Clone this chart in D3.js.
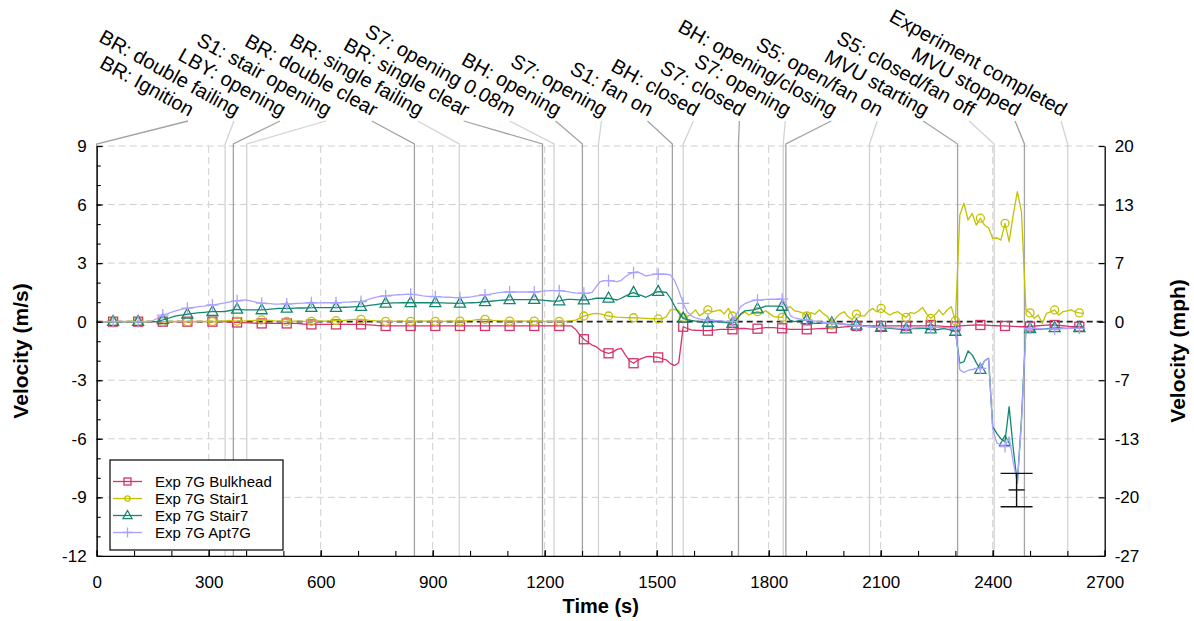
<!DOCTYPE html>
<html><head><meta charset="utf-8">
<script src="https://cdn.jsdelivr.net/npm/d3@7"></script>
<style>
html,body{margin:0;padding:0;background:#fff;}
svg{display:block;font-family:"Liberation Sans",Arial,Helvetica,sans-serif;}
</style></head><body>
<svg id="chart" width="1194" height="621"></svg>
<script>
// ---------------- DATA ----------------
const seriesNames = ["Exp 7G Bulkhead", "Exp 7G Stair1", "Exp 7G Stair7", "Exp 7G Apt7G"];

const time = [
0,11,22,33,44,55,66,77,88,100,
111,122,133,144,155,166,177,188,199,210,
221,232,243,254,265,277,288,299,310,321,
332,343,354,365,376,387,398,409,420,431,
442,453,465,476,487,498,509,520,531,542,
553,564,575,586,597,608,619,630,641,653,
664,675,686,697,708,719,730,741,752,763,
774,785,796,807,818,830,841,852,863,874,
885,896,907,918,929,940,951,962,973,984,
995,1006,1018,1029,1040,1051,1062,1073,1084,1095,
1106,1117,1128,1139,1150,1161,1172,1183,1194,1206,
1217,1228,1239,1250,1261,1272,1283,1294,1305,1316,
1327,1338,1349,1360,1371,1383,1394,1405,1416,1427,
1438,1449,1460,1471,1482,1493,1504,1515,1526,1537,
1548,1559,1571,1582,1593,1604,1615,1626,1637,1648,
1659,1670,1681,1692,1703,1714,1725,1736,1747,1759,
1770,1781,1792,1803,1814,1825,1836,1847,1858,1869,
1880,1891,1902,1913,1924,1936,1947,1958,1969,1980,
1991,2002,2013,2024,2035,2046,2057,2068,2079,2090,
2101,2112,2124,2135,2146,2157,2168,2179,2190,2201,
2212,2223,2234,2245,2256,2267,2278,2289,2300,2312,
2323,2334,2345,2356,2367,2378,2389,2400,2411,2422,
2433,2444,2455,2466,2477,2489,2500,2511,2522,2533,
2544,2555,2566,2577,2588,2599,2610,2621,2632,2643];

const bulkhead = [
0,0,0,0,0,0,0,0,0,0,
0,0,0,0,0,0,0,0,0,0,
0,0,0,0,0,0,0,0,0,0,
0,0,-0.02,-0.03,-0.04,-0.05,-0.05,-0.06,-0.07,-0.08,
-0.09,-0.09,-0.09,-0.09,-0.09,-0.09,-0.09,-0.09,-0.09,-0.1,
-0.12,-0.13,-0.14,-0.14,-0.14,-0.14,-0.14,-0.14,-0.14,-0.14,
-0.14,-0.14,-0.14,-0.14,-0.14,-0.15,-0.16,-0.18,-0.2,-0.21,
-0.22,-0.22,-0.22,-0.22,-0.22,-0.22,-0.22,-0.22,-0.22,-0.22,
-0.22,-0.22,-0.22,-0.22,-0.22,-0.22,-0.22,-0.22,-0.22,-0.22,
-0.22,-0.22,-0.22,-0.22,-0.22,-0.22,-0.22,-0.22,-0.22,-0.22,
-0.22,-0.22,-0.22,-0.22,-0.22,-0.22,-0.22,-0.22,-0.22,-0.22,
-0.22,-0.22,-0.22,-0.22,-0.22,-0.22,-0.4,-0.68,-0.9,-1.05,
-1.2,-1.28,-1.45,-1.56,-1.62,-1.55,-1.42,-1.37,-1.7,-2.0,
-2.13,-1.98,-1.88,-1.8,-1.78,-1.8,-1.83,-1.9,-1.96,-2.15,
-2.25,-2.1,-0.26,-0.35,-0.42,-0.44,-0.45,-0.46,-0.46,-0.44,
-0.42,-0.39,-0.39,-0.39,-0.39,-0.37,-0.35,-0.35,-0.37,-0.39,
-0.36,-0.33,-0.31,-0.3,-0.31,-0.33,-0.34,-0.37,-0.39,-0.39,
-0.39,-0.39,-0.39,-0.38,-0.37,-0.36,-0.35,-0.34,-0.33,-0.31,
-0.29,-0.27,-0.25,-0.23,-0.22,-0.22,-0.22,-0.22,-0.22,-0.22,
-0.22,-0.22,-0.22,-0.22,-0.22,-0.22,-0.22,-0.22,-0.22,-0.22,
-0.22,-0.2,-0.17,-0.2,-0.22,-0.24,-0.26,-0.26,-0.24,-0.22,
-0.2,-0.19,-0.18,-0.17,-0.17,-0.18,-0.19,-0.2,-0.21,-0.22,
-0.22,-0.23,-0.24,-0.25,-0.26,-0.26,-0.25,-0.23,-0.21,-0.19,
-0.18,-0.17,-0.17,-0.19,-0.21,-0.23,-0.25,-0.26,-0.26,-0.26];

const stair1 = [
0,0,0,0,0,0,0,0.01,0.01,0,
0,0,0.01,0.01,0,0,0,0,0.01,0.02,
0.02,0.01,0,0,0.01,0.02,0.02,0.01,0.01,0.02,
0.03,0.04,0.05,0.04,0.03,0.03,0.04,0.05,0.06,0.08,
0.09,0.08,0.06,0.04,0.03,0.02,0.02,0.02,0.03,0.03,
0.02,0.02,0.02,0.02,0.03,0.03,0.03,0.04,0.05,0.05,
0.07,0.09,0.11,0.12,0.12,0.1,0.07,0.05,0.03,0.02,
0.02,0.02,0.02,0.03,0.03,0.02,0.02,0.02,0.03,0.03,
0.03,0.03,0.02,0.02,0.02,0.03,0.03,0.03,0.03,0.04,
0.05,0.07,0.1,0.12,0.12,0.1,0.07,0.05,0.04,0.03,
0.03,0.03,0.03,0.03,0.03,0.03,0.03,0.03,0.02,0.02,
0.02,0.02,0.02,0.02,0.03,0.05,0.08,0.18,0.29,0.35,
0.4,0.43,0.4,0.35,0.29,0.26,0.23,0.22,0.21,0.2,
0.2,0.19,0.18,0.17,0.16,0.15,0.14,0.15,0.26,0.6,
0.63,0.55,0.22,0.25,0.4,0.6,0.3,0.45,0.6,0.5,
0.55,0.6,0.4,0.68,0.29,0.12,0.35,0.51,0.34,0.45,
0.51,0.45,0.56,0.4,0.26,0.24,0.22,0.68,0.77,0.55,
0.51,0.45,0.29,0.46,0.39,0.6,0.4,0.26,-0.17,0.2,
0.4,0.51,0.25,0.12,0.39,0.3,0.3,0.55,0.68,0.5,
0.68,0.5,0.34,0.45,0.51,0.35,0.22,0.46,0.42,0.55,
0.73,0.4,0.17,0.34,0.6,0.35,0.6,0.77,0.05,5.47,
6.07,5.21,5.55,4.95,5.3,4.95,4.8,4.27,4.3,4.18,
5.04,4.1,5.47,6.66,5.64,0.6,0.45,0.17,0.34,-0.09,
0.43,0.5,0.6,0.34,0.51,0.55,0.6,0.5,0.45,0.43];

const stair7 = [
0,0,0,0,0,0,0,0,0,0,
0,0,0,0,0,0,0.09,0.15,0.22,0.28,
0.32,0.35,0.38,0.41,0.44,0.46,0.48,0.5,0.51,0.51,
0.51,0.52,0.56,0.6,0.63,0.62,0.6,0.6,0.6,0.6,
0.6,0.62,0.64,0.66,0.68,0.68,0.68,0.68,0.69,0.7,
0.7,0.71,0.72,0.72,0.72,0.72,0.72,0.72,0.72,0.73,
0.74,0.75,0.76,0.77,0.77,0.8,0.83,0.86,0.89,0.92,
0.94,0.95,0.96,0.96,0.97,0.97,0.97,0.97,0.97,0.97,
0.97,0.97,0.97,0.96,0.96,0.95,0.95,0.94,0.94,0.95,
0.96,0.97,0.98,1.0,1.02,1.04,1.06,1.08,1.1,1.11,
1.12,1.13,1.13,1.13,1.13,1.13,1.13,1.12,1.1,1.08,
1.06,1.05,1.06,1.1,1.14,1.14,1.13,1.12,1.11,1.12,
1.15,1.2,1.2,1.2,1.2,1.16,1.11,1.2,1.31,1.42,
1.49,1.4,1.33,1.25,1.35,1.47,1.54,1.52,1.5,1.2,
0.8,0.45,0.17,0.1,0.06,0.03,0.0,-0.03,-0.05,-0.03,
0.0,0.0,-0.03,-0.06,-0.09,0.1,0.4,0.55,0.58,0.6,
0.65,0.72,0.8,0.8,0.8,0.8,0.78,0.3,0.06,0.0,
0.04,0.08,0.09,-0.05,-0.09,-0.08,-0.06,-0.05,-0.07,-0.09,
-0.11,-0.13,-0.15,-0.17,-0.19,-0.21,-0.23,-0.25,-0.27,-0.29,
-0.3,-0.32,-0.34,-0.36,-0.38,-0.39,-0.38,-0.37,-0.36,-0.35,
-0.34,-0.34,-0.38,-0.42,-0.4,-0.35,-0.38,-0.43,-0.5,-2.13,
-2.05,-1.5,-1.7,-2.1,-2.45,-2.0,-1.88,-5.38,-5.72,-6.0,
-6.15,-4.35,-6.5,-8.28,-5.0,-0.34,-0.36,-0.38,-0.38,-0.38,
-0.36,-0.34,-0.32,-0.32,-0.33,-0.34,-0.33,-0.32,-0.31,-0.3];

const apt7G = [
0,0,0,0,0,0,0,0,0,0,
0,0,0,0,0.1,0.2,0.34,0.4,0.48,0.54,
0.6,0.65,0.69,0.72,0.75,0.78,0.8,0.83,0.86,0.88,
0.92,0.96,1.0,1.04,1.07,1.1,1.11,1.08,1.03,0.98,
0.95,0.93,0.92,0.9,0.9,0.91,0.91,0.91,0.93,0.94,
0.95,0.96,0.97,0.97,0.96,0.97,0.98,0.97,0.97,0.98,
1.0,1.0,1.02,1.03,1.03,1.08,1.15,1.22,1.27,1.3,
1.32,1.34,1.36,1.38,1.39,1.4,1.4,1.39,1.36,1.32,
1.3,1.29,1.28,1.27,1.26,1.25,1.24,1.23,1.23,1.24,
1.25,1.28,1.32,1.35,1.37,1.4,1.44,1.48,1.5,1.51,
1.52,1.52,1.52,1.53,1.52,1.52,1.52,1.54,1.56,1.58,
1.59,1.59,1.59,1.57,1.54,1.5,1.47,1.46,1.45,1.46,
1.5,1.8,2.05,2.1,2.1,2.08,2.05,2.12,2.3,2.45,
2.51,2.56,2.45,2.34,2.38,2.42,2.43,2.43,2.43,2.4,
2.1,1.6,0.94,0.5,0.3,0.2,0.14,0.1,0.09,0.07,
0.05,0.05,0.03,0.02,0.0,0.4,0.77,0.92,1.0,1.08,
1.1,1.12,1.14,1.15,1.15,1.15,1.15,0.9,0.3,0.2,
0.15,0.11,0.09,0.06,0.03,0.0,-0.03,-0.06,-0.09,-0.11,
-0.13,-0.15,-0.17,-0.19,-0.22,-0.23,-0.24,-0.25,-0.27,-0.28,
-0.29,-0.3,-0.31,-0.32,-0.33,-0.34,-0.34,-0.33,-0.32,-0.31,
-0.3,-0.29,-0.29,-0.29,-0.3,-0.3,-0.3,-0.32,-0.35,-2.47,
-2.6,-2.5,-2.45,-2.4,-2.39,-2.0,-1.9,-5.5,-6.2,-6.32,
-6.4,-5.9,-7.2,-8.28,-5.2,-0.4,-0.34,-0.33,-0.35,-0.36,
-0.38,-0.38,-0.38,-0.37,-0.36,-0.35,-0.34,-0.34,-0.34,-0.34];

const eventTimes = [0, 344, 366, 402, 851, 971, 1194, 1225, 1301, 1344,
                    1542, 1571, 1719, 1839, 1846, 2070, 2306, 2404, 2485, 2601];
const eventLabels = ["BR: Ignition", "BR: double failing", "LBY: opening", "S1: stair opening",
  "BR: double clear", "BR: single failing", "BR: single clear", "S7: opening 0.08m",
  "BH: opening", "S7: opening", "S1: fan on", "BH: closed", "S7: closed", "S7: opening",
  "BH: opening/closing", "S5: open/fan on", "MVU starting", "S5: closed/fan off",
  "MVU stopped", "Experiment completed"];

const xTickValues = [0, 300, 600, 900, 1200, 1500, 1800, 2100, 2400, 2700];
const xTickLabels = ["0", "300", "600", "900", "1200", "1500", "1800", "2100", "2400", "2700"];
const yTickValues = [-12, -9, -6, -3, 0, 3, 6, 9];
const yTickLabels = ["-12", "-9", "-6", "-3", "0", "3", "6", "9"];
const mphTickLabels = ["-27", "-20", "-13", "-7", "0", "7", "13", "20"];

const errorBarTime = 2464;
const errorBarValues = [-9.48, -8.62, -7.77]; // low, mid, high (m/s)

// ---------------- DRAW ----------------
const svg = d3.select("#chart");
const x = d3.scaleLinear().domain([0, 2700]).range([96.7, 1104.7]);
const y = d3.scaleLinear().domain([-12, 9]).range([555.9, 146]);
const X0 = x.range()[0], X1 = x.range()[1], YB = y.range()[0], YT = y.range()[1];

const colors = ["#d4336b", "#c2c200", "#12876d", "#aaa2ff"];
const symbols = ["square", "circle", "triangle", "plus"];
const allSeries = [bulkhead, stair1, stair7, apt7G];

// grid
const grid = svg.append("g");
xTickValues.filter(v => v > 0 && v < 2700).forEach(v => {
  grid.append("line").attr("x1", x(v)).attr("x2", x(v)).attr("y1", YT).attr("y2", YB)
    .attr("stroke", "#cfcfcf").attr("stroke-width", 1).attr("stroke-dasharray", "7,4");
});
yTickValues.filter(v => v !== 0 && v !== -12).forEach(v => {
  grid.append("line").attr("x1", X0).attr("x2", X1).attr("y1", y(v)).attr("y2", y(v))
    .attr("stroke", "#cfcfcf").attr("stroke-width", 1).attr("stroke-dasharray", "7,4");
});

// event annotations
const ann = svg.append("g");
const firstEnd = 187, lastEnd = 1060;
eventTimes.forEach((t, j) => {
  const ex = firstEnd + j * (lastEnd - firstEnd) / (eventTimes.length - 1);
  const col = j % 2 === 0 ? "#a3a3a3" : "#d2d2d2";
  ann.append("path")
    .attr("d", `M${ex + 1},121 L${x(t)},${YT - 2} L${x(t)},${YB}`)
    .attr("fill", "none").attr("stroke", col).attr("stroke-width", 1.3);
  ann.append("text")
    .attr("transform", `translate(${ex + 2},117) rotate(29)`)
    .attr("text-anchor", "end").attr("font-size", 20).attr("fill", "#000")
    .text(eventLabels[j]);
});

// zero line
svg.append("line").attr("x1", X0).attr("x2", X1).attr("y1", y(0)).attr("y2", y(0))
  .attr("stroke", "#222").attr("stroke-width", 1.6).attr("stroke-dasharray", "6,4");

function drawSymbol(g, type, cx, cy, color, s) {
  if (type === "square") {
    g.append("rect").attr("x", cx - s.sq / 2).attr("y", cy - s.sq / 2).attr("width", s.sq).attr("height", s.sq)
      .attr("fill", "none").attr("stroke", color).attr("stroke-width", 1.3);
  } else if (type === "circle") {
    g.append("circle").attr("cx", cx).attr("cy", cy).attr("r", s.r)
      .attr("fill", "none").attr("stroke", color).attr("stroke-width", 1.3);
  } else if (type === "triangle") {
    const w = s.tw, h = s.th;
    g.append("path").attr("d", `M${cx},${cy - h * 0.62} L${cx + w / 2},${cy + h * 0.38} L${cx - w / 2},${cy + h * 0.38} Z`)
      .attr("fill", "none").attr("stroke", color).attr("stroke-width", 1.3);
  } else {
    const p = s.p / 2;
    g.append("path").attr("d", `M${cx - p},${cy} H${cx + p} M${cx},${cy - p} V${cy + p}`)
      .attr("fill", "none").attr("stroke", color).attr("stroke-width", 1.3);
  }
}

const line = d3.line().x((d, i) => x(time[i])).y(d => y(d));
const plotMarkers = {sq: 9, r: 4, tw: 11, th: 10, p: 12};
allSeries.forEach((vals, k) => {
  const g = svg.append("g");
  g.append("path").datum(vals).attr("d", line).attr("fill", "none")
    .attr("stroke", colors[k]).attr("stroke-width", 1.3).attr("stroke-linejoin", "round");
  vals.forEach((v, i) => {
    if (i % 6 === 4) drawSymbol(g, symbols[k], x(time[i]), y(v), colors[k], plotMarkers);
  });
});

// error bar
const eb = svg.append("g").attr("stroke", "#111").attr("stroke-width", 1.4);
const ebx = x(errorBarTime);
eb.append("line").attr("x1", ebx).attr("x2", ebx).attr("y1", y(errorBarValues[0])).attr("y2", y(errorBarValues[2]));
eb.append("line").attr("x1", ebx - 16).attr("x2", ebx + 16).attr("y1", y(errorBarValues[0])).attr("y2", y(errorBarValues[0]));
eb.append("line").attr("x1", ebx - 16).attr("x2", ebx + 16).attr("y1", y(errorBarValues[2])).attr("y2", y(errorBarValues[2]));
eb.append("line").attr("x1", ebx - 8).attr("x2", ebx + 8).attr("y1", y(errorBarValues[1])).attr("y2", y(errorBarValues[1]));

// axes
function styleAxis(g) {
  g.selectAll("path.domain").attr("stroke", "#000").attr("stroke-width", 1.3);
  g.selectAll(".tick line").attr("stroke", "#000").attr("stroke-width", 1.2);
  g.selectAll("text").attr("font-size", 17).attr("fill", "#000")
    .attr("font-family", '"Liberation Sans",Arial,sans-serif');
}
// minor ticks
svg.append("g").attr("transform", `translate(${X0},0)`)
  .call(d3.axisLeft(y).tickValues(d3.range(-12, 10, 1)).tickSize(-4).tickFormat(""))
  .call(g => { g.select(".domain").remove(); g.selectAll(".tick line").attr("stroke", "#000").attr("stroke-width", 1.1); });
svg.append("g").attr("transform", `translate(0,${YB})`)
  .call(d3.axisBottom(x).tickValues(d3.range(0, 2701, 100)).tickSize(-5).tickFormat(""))
  .call(g => { g.select(".domain").remove(); g.selectAll(".tick line").attr("stroke", "#000").attr("stroke-width", 1.1); });

svg.append("g").attr("transform", `translate(${X0},0)`)
  .call(d3.axisLeft(y).tickValues(yTickValues).tickSizeInner(-6).tickSizeOuter(0).tickPadding(10)
    .tickFormat((d, i) => yTickLabels[i]))
  .call(styleAxis);
svg.append("g").attr("transform", `translate(0,${YB})`)
  .call(d3.axisBottom(x).tickValues(xTickValues).tickSizeInner(-6).tickSizeOuter(0).tickPadding(20)
    .tickFormat((d, i) => xTickLabels[i]))
  .call(styleAxis);
svg.append("g").attr("transform", `translate(${X1},0)`)
  .call(d3.axisRight(y).tickValues(yTickValues).tickSizeInner(-6).tickSizeOuter(0).tickPadding(10)
    .tickFormat((d, i) => mphTickLabels[i]))
  .call(styleAxis);

// axis titles
svg.append("text").attr("x", (X0 + X1) / 2).attr("y", 613).attr("text-anchor", "middle")
  .attr("font-size", 20).attr("font-weight", "bold").text("Time (s)");
svg.append("text").attr("transform", `translate(28,${(YT + YB) / 2}) rotate(-90)`).attr("text-anchor", "middle")
  .attr("font-size", 21).attr("font-weight", "bold").text("Velocity (m/s)");
svg.append("text").attr("transform", `translate(1185,${(YT + YB) / 2}) rotate(-90)`).attr("text-anchor", "middle")
  .attr("font-size", 21).attr("font-weight", "bold").text("Velocity (mph)");

// legend
const lg = svg.append("g");
lg.append("rect").attr("x", 110).attr("y", 460).attr("width", 173).attr("height", 90)
  .attr("fill", "#fff").attr("stroke", "#000").attr("stroke-width", 1.2);
const legendMarkers = {sq: 7, r: 2.6, tw: 9, th: 8, p: 10};
seriesNames.forEach((name, k) => {
  const cy = 481.5 + k * 17;
  lg.append("line").attr("x1", 113).attr("x2", 142).attr("y1", cy).attr("y2", cy)
    .attr("stroke", colors[k]).attr("stroke-width", 1.3);
  drawSymbol(lg, symbols[k], 127.5, cy, colors[k], legendMarkers);
  lg.append("text").attr("x", 155).attr("y", cy).attr("dy", "0.36em")
    .attr("font-size", 15).attr("fill", "#000").text(name);
});
</script>
</body></html>
